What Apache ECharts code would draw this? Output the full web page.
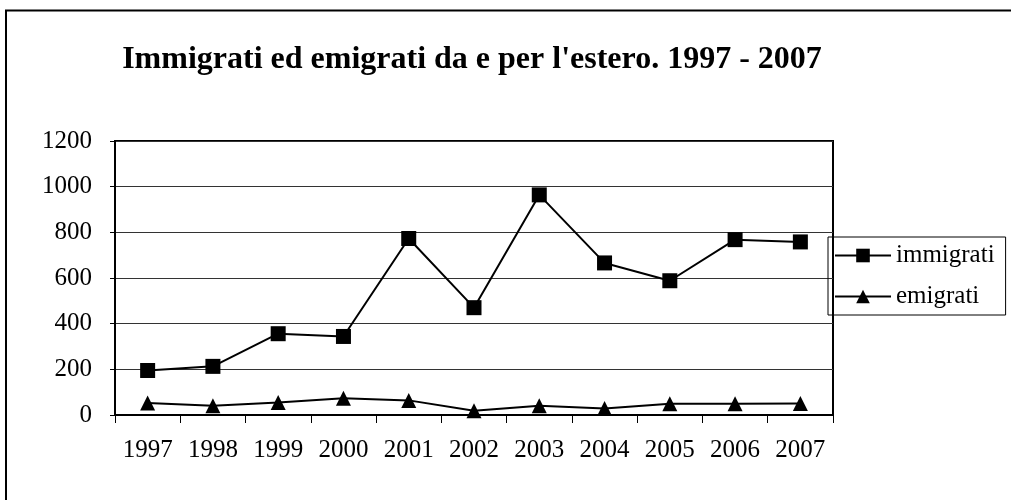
<!DOCTYPE html>
<html>
<head>
<meta charset="utf-8">
<script src="https://cdn.jsdelivr.net/npm/echarts@6/dist/echarts.min.js"></script>
<style>
  html, body { margin: 0; padding: 0; background: #fff; }
  #chart { width: 1011px; height: 500px; }
</style>
</head>
<body>
<div id="chart"></div>
<script>
// Data
var years = ['1997', '1998', '1999', '2000', '2001', '2002', '2003', '2004', '2005', '2006', '2007'];
var immigrati = [195, 213, 356, 344, 773, 470, 964, 666, 588, 768, 758];
var emigrati = [53, 41, 55, 73, 64, 19, 41, 29, 49, 49, 50];

var chartDom = document.getElementById('chart');
var myChart = echarts.init(chartDom);
var font = '"Liberation Serif", "Times New Roman", serif';

var option = {
    animation: false,
    textStyle: { fontFamily: font },
    title: {
        text: "Immigrati ed emigrati da e per l'estero. 1997 - 2007",
        left: 467,
        textAlign: 'center',
        top: 39,
        textStyle: { fontFamily: font, fontSize: 32, fontWeight: 'bold', color: '#000' }
    },
    // outer frame of the picture
    graphic: [{
        type: 'rect',
        shape: { x: 6, y: 10.5, width: 1010, height: 500 },
        style: { fill: 'none', stroke: '#000', lineWidth: 2 },
        silent: true
    }],
    legend: {
        orient: 'vertical',
        left: 828,
        top: 237,
        padding: [6, 11, 6, 6],
        itemGap: 16,
        itemWidth: 56,
        itemHeight: 17,
        borderColor: '#000',
        borderWidth: 1,
        textStyle: { fontFamily: font, fontSize: 25, color: '#000' },
        data: ['immigrati', 'emigrati']
    },
    grid: {
        left: 115,
        right: 178,
        top: 141,
        bottom: 85,
        show: true,
        borderColor: '#000',
        borderWidth: 2
    },
    xAxis: {
        type: 'category',
        data: years,
        boundaryGap: true,
        axisLine: { lineStyle: { color: '#000', width: 2 } },
        axisTick: { show: true, length: 8, lineStyle: { color: '#000', width: 1 } },
        axisLabel: { fontFamily: font, fontSize: 25, color: '#000', margin: 23 }
    },
    yAxis: {
        type: 'value',
        min: 0,
        max: 1200,
        interval: 200,
        axisLine: { show: true, lineStyle: { color: '#000', width: 2 } },
        axisTick: { show: true, length: 5, lineStyle: { color: '#000' } },
        axisLabel: {
            fontFamily: font, fontSize: 25, color: '#000', margin: 23,
            formatter: function (value) { return String(value); }
        },
        splitLine: { show: true, lineStyle: { color: '#333', width: 1 } }
    },
    series: [{
        name: 'immigrati',
        type: 'line',
        data: immigrati,
        symbol: 'rect',
        symbolSize: 15,
        lineStyle: { color: '#000', width: 2 },
        itemStyle: { color: '#000' }
    }, {
        name: 'emigrati',
        type: 'line',
        data: emigrati,
        symbol: 'triangle',
        symbolSize: 15,
        lineStyle: { color: '#000', width: 2 },
        itemStyle: { color: '#000' }
    }]
};

myChart.setOption(option);
</script>
</body>
</html>
